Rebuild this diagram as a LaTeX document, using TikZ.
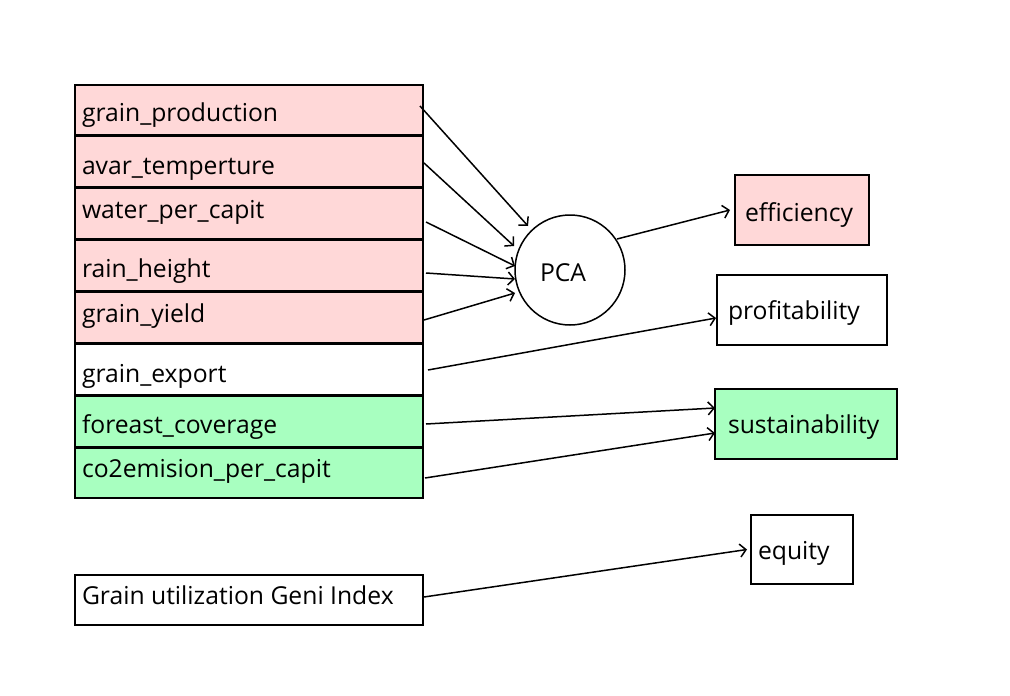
\documentclass[tikz,border=0pt]{standalone}
\usepackage{fontspec}
\setmainfont{Open Sans}
\usetikzlibrary{arrows.meta,calc}
\definecolor{pinkf}{RGB}{255,216,216}
\definecolor{greenf}{RGB}{168,255,192}
\tikzset{
  lbox/.style={draw=black, line width=1.6pt, minimum width=348pt, inner sep=0pt, outer sep=0pt},
  rbox/.style={draw=black, line width=1.6pt, inner sep=0pt, outer sep=0pt},
  txt/.style={inner sep=0pt, outer sep=0pt, anchor=base west, font=\fontsize{24.7}{27}\selectfont},
  arr/.style={line width=1.5pt, -{Straight Barb[length=6pt,width=13pt,line width=1.5pt]}},
}
\begin{document}
\begin{tikzpicture}[x=1pt,y=-1pt]
\useasboundingbox (0,0) rectangle (1010,696);
% left stack
\node[lbox, fill=pinkf, minimum height=50pt] (b1) at (249,110) {};
\node[lbox, fill=pinkf, minimum height=51pt] (b2) at (249,161.5) {};
\node[lbox, fill=pinkf, minimum height=51pt] (b3) at (249,213.5) {};
\node[lbox, fill=pinkf, minimum height=51pt] (b4) at (249,265.5) {};
\node[lbox, fill=pinkf, minimum height=51pt] (b5) at (249,317.5) {};
\node[lbox, fill=white, minimum height=51pt] (b6) at (249,369.5) {};
\node[lbox, fill=greenf, minimum height=51pt] (b7) at (249,421.5) {};
\node[lbox, fill=greenf, minimum height=50pt] (b8) at (249,473) {};
\node[lbox, fill=white, minimum height=50pt] (b9) at (249,600) {};
\node[txt] (t1) at (82,121) {grain\_production};
\node[txt] (t2) at (82,174) {avar\_temperture};
\node[txt] (t3) at (82,218) {water\_per\_capit};
\node[txt] (t4) at (82,277) {rain\_height};
\node[txt] (t5) at (82,322) {grain\_yield};
\node[txt] (t6) at (82,382) {grain\_export};
\node[txt] (t7) at (82,433) {foreast\_coverage};
\node[txt] (t8) at (82,477) {co2emision\_per\_capit};
\node[txt] (t9) at (82,604) {Grain utilization Geni Index};
% PCA
\node[draw=black, line width=1.5pt, circle, minimum size=110pt, inner sep=0pt] (pca) at (570,270) {};
\node[txt] (tp) at (540,281) {PCA};
% right boxes
\node[rbox, fill=pinkf, minimum width=134pt, minimum height=70pt] (eff) at (802,210) {};
\node[txt] (te) at (745,221) {efficiency};
\node[rbox, fill=white, minimum width=170pt, minimum height=70pt] (prof) at (802,310) {};
\node[txt] (tpr) at (728,319) {profitability};
\node[rbox, fill=greenf, minimum width=182pt, minimum height=70pt] (sust) at (806,424) {};
\node[txt] (ts) at (728,433) {sustainability};
\node[rbox, fill=white, minimum width=102pt, minimum height=69pt] (eq) at (802,549.5) {};
\node[txt] (teq) at (758,559) {equity};
% arrows
\draw[arr] ($(b1.east)+(-3,-4)$) -- ($(pca.center)+(-42,-44)$);
\draw[arr] ($(b2.east)+(1,1.5)$) -- ($(pca.center)+(-56,-24)$);
\draw[arr] ($(b3.east)+(3,8.5)$) -- ($(pca.center)+(-55,-4)$);
\draw[arr] ($(b4.east)+(3,7.5)$) -- ($(pca.center)+(-55,9)$);
\draw[arr] ($(b5.east)+(1,2.5)$) -- ($(pca.center)+(-55,23)$);
\draw[arr] ($(pca.center)+(47,-31)$) -- ($(eff.west)+(-5,0)$);
\draw[arr] ($(b6.east)+(5,0.5)$) -- ($(prof.west)+(-1,8)$);
\draw[arr] ($(b7.east)+(3,2.5)$) -- ($(sust.west)+(0,-16)$);
\draw[arr] ($(b8.east)+(2,5)$) -- ($(sust.west)+(0,9)$);
\draw[arr] ($(b9.east)+(1,-3)$) -- ($(eq.west)+(-4,0)$);
\end{tikzpicture}
\end{document}
